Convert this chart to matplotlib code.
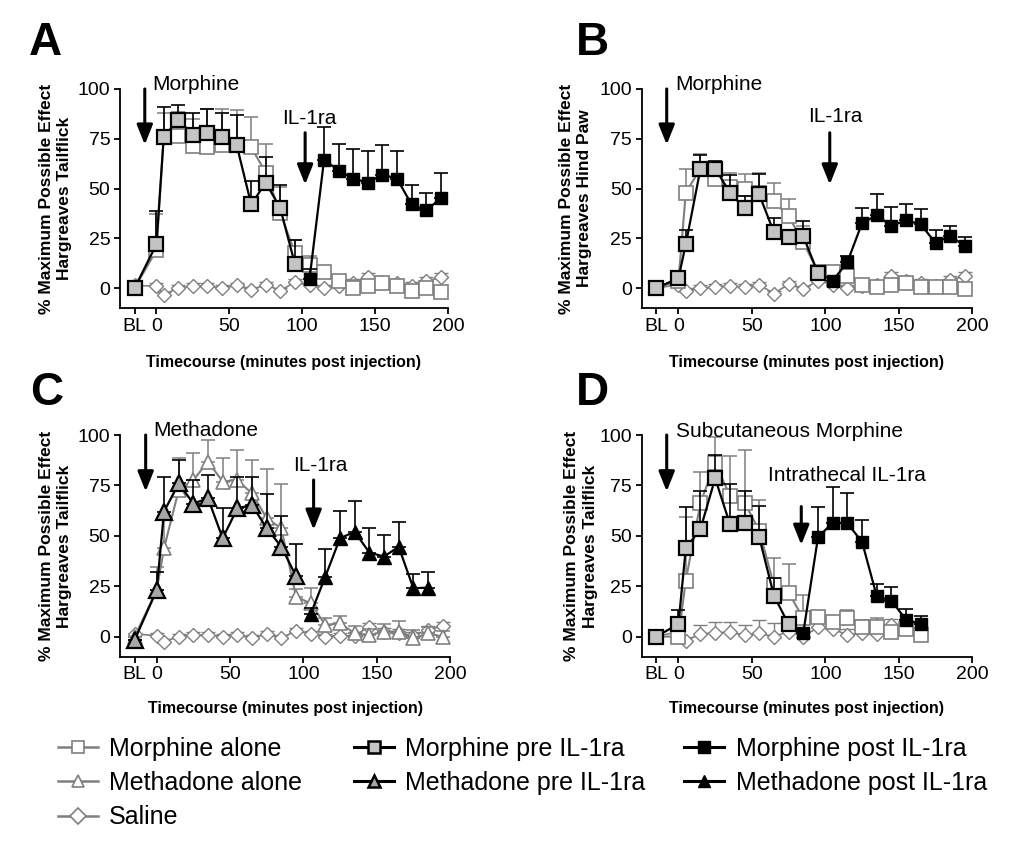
import matplotlib.pyplot as plt
import matplotlib as mpl
import numpy as np
from matplotlib.lines import Line2D

# Set plot parameters
mpl.rcParams['font.family'] = ['Liberation Sans', 'DejaVu Sans']
mpl.rcParams['xtick.major.size'] = 4
mpl.rcParams['ytick.major.size'] = 4
mpl.rcParams['xtick.major.width'] = 1.3
mpl.rcParams['ytick.major.width'] = 1.3
mpl.rcParams['axes.linewidth'] = 1.3

# time points (BL plotted at -15)
t_full = [-15, 0, 5, 15, 25, 35, 45, 55, 65, 75, 85, 95,
          105, 115, 125, 135, 145, 155, 165, 175, 185, 195]
t_pre = t_full[:12]
t_post = t_full[12:]
t_c_post = t_full[12:21]
t_d_full = t_full[:19]
t_d_pre = t_full[:10]
t_d_post = t_full[10:19]
xtick_pos = [-15, 0, 50, 100, 150, 200]
xtick_lab = ['BL', '0', '50', '100', '150', '200']

# Panel A - morphine, tailflick
a_alone = [0, 19, 76, 76.5, 71.5, 71, 72, 72, 70.7, 58, 37.7, 17.6,
           11.4, 8, 3.4, 0, 1, 2.5, 1, -1.3, 0, -2]
a_alone_sem = [0, 18, 12, 12, 13.5, 19, 18, 17.6, 15.3, 14.5, 12.9, 6.4,
               4.6, 3, 2, 4, 3, 2, 2, 2, 2, 2]
a_pre = [0, 22, 76, 84.5, 77, 78, 76, 72, 42, 53, 40, 12]
a_pre_sem = [0, 16.5, 15, 7.5, 11, 12, 12, 15, 12, 13, 12, 12]
a_post = [4.5, 64.5, 59, 55, 53, 57, 55, 42, 39, 45]
a_post_sem = [5, 16.5, 13.5, 15, 16, 15, 14, 10, 9, 13]
a_saline = [1.3, 1, -3.3, 0, 1, 1, 0, 1.3, -1, 1.7, -1.3, 3,
            1.3, 0, 1, 2.5, 5.4, 3, 2.5, 1, 3.4, 5.4]
a_saline_sem = [0, 1.5, 1.5, 1.5, 1.5, 1.5, 1.5, 1.5, 1.5, 1.5, 1.5, 1.5,
                1.5, 1.5, 1.5, 2, 2, 2, 2, 2, 2, 2]

# Panel B - morphine, hind paw
b_alone = [0, 3.7, 48, 60, 55, 50.6, 50, 47.7, 43.5, 36, 23, 8,
           8, 6, 1.3, 0.5, 1.3, 2.5, 0.5, 0.3, 0.5, -0.5]
b_alone_sem = [0, 2, 11.8, 7.5, 8, 7.2, 7.5, 10, 9.5, 8.6, 8, 3,
               3, 5, 2, 2, 2, 2, 2, 2, 2, 2]
b_pre = [0, 5, 22, 60, 60, 48, 40, 47, 28, 25.5, 26, 7.5]
b_pre_sem = [0, 2, 7, 7, 4, 8.6, 6, 10.5, 7, 3.5, 7.5, 3.5]
b_post = [3.7, 13, 32.7, 36.5, 31.3, 34, 32, 22.6, 26.3, 21]
b_post_sem = [2, 3, 7.3, 10.5, 9.2, 8, 7.5, 6.4, 5, 4.6]
b_saline = [0, 1.7, -1.7, 0, 0.5, 1.2, 0.5, 1.7, -2.8, 2, -0.5, 3.7,
            1.7, 0, 0.8, 1.7, 5.9, 3.4, 2.5, 0.8, 4.2, 5.9]
b_saline_sem = [0, 1.5, 1.5, 1.5, 1.5, 1.5, 1.5, 1.5, 1.5, 1.5, 1.5, 1.5,
                1.5, 1.5, 1.5, 2, 2, 2, 2, 2, 2, 2]

# Panel C - methadone, tailflick
c_alone = [0, 23, 43.8, 72.7, 77.7, 86.8, 76.9, 77.7, 71, 58.7, 53.7, 19.8,
           16.5, 5.8, 6.6, 1.6, 0.8, 2.5, 2.5, -0.8, 1.6, 0]
c_alone_sem = [0, 11.7, 15, 15.7, 13.3, 10.7, 11.5, 14.9, 16.6, 24.3, 21.8, 4,
               7.5, 3.2, 3.7, 3.7, 3, 3.8, 5.3, 4, 3, 3]
c_pre = [-1.6, 23, 62, 76, 66, 68.6, 48.8, 63.6, 65.3, 53.7, 44.6, 30]
c_pre_sem = [0, 9, 17, 11.6, 11.7, 11.4, 14.8, 15.4, 13.7, 17, 15.4, 16]
c_post = [11.2, 29.8, 48.8, 52, 41.7, 39.7, 44.6, 24, 24.3]
c_post_sem = [3, 13.7, 13.5, 15.3, 12.3, 10.7, 12.4, 7, 7.9]
c_saline = [1.3, 0.5, -2.5, 0, 0.8, 0.8, 0, 0.8, -0.8, 1.3, -0.8, 3,
            1.2, 0, 0.5, 0.5, 5, 2.1, 1.6, 0.5, 3.3, 5.3]
c_saline_sem = [0, 1.5, 1.5, 1.5, 1.5, 1.5, 1.5, 1.5, 1.5, 1.5, 1.5, 1.5,
                1.5, 1.5, 1.5, 2, 2, 2, 2, 2, 2, 2]

# Panel D - subcutaneous morphine, intrathecal IL-1ra
d_alone = [0, 0, 27.8, 66.4, 86, 70, 66.4, 52.6, 25.6, 21.8, 9, 9.6,
           7.4, 9, 5, 5, 2.5, 4, 0.8]
d_alone_sem = [0, 2, 31.7, 15.1, 13, 19.6, 26.2, 15.2, 13.2, 14.1, 11.7, 3,
               2.6, 4, 3, 4, 3, 4, 2]
d_pre = [0, 6.3, 43.8, 53.4, 78.5, 55.9, 56.2, 49.3, 20.3, 6.1]
d_pre_sem = [0, 6.9, 20.7, 18.6, 11.5, 20, 16.2, 15.5, 8.7, 2]
d_post = [2, 49.3, 56.5, 56.2, 47, 20, 17.8, 8.3, 6.3]
d_post_sem = [2, 15.2, 17.5, 15.2, 11, 6, 6.7, 5.2, 3.7]
d_saline = [0, 2.5, -2, 1.2, 2, 2.1, 0.8, 1.6, 0, 2.5, 0, 4.6,
            3.8, 0.8, 1.6, 1.3, 5.8, 5, 2.8]
d_saline_sem = [0, 2, 2, 4.6, 5.4, 5.3, 5, 6.7, 6.6, 4, 3, 3,
                4, 3, 3, 3, 3, 2, 2]

GRAY = '#7f7f7f'
PRE_SQ = '#c4c4c4'
PRE_TRI = '#a6a6a6'


def errs(ax, t, y, sem, color, lw, z):
    lower = np.zeros(len(y))
    ax.errorbar(t, y, yerr=[lower, sem], fmt='none', ecolor=color,
                elinewidth=lw, capsize=4.8, capthick=lw, zorder=z)


def panel(ax, tf, alone, alone_sem, tpre, pre, pre_sem, tpost, post, post_sem,
          saline, saline_sem, mk, ylab):
    pre_fill = PRE_SQ if mk == 's' else PRE_TRI
    ms_big = 10 if mk == 's' else 11
    # saline
    errs(ax, tf, saline, saline_sem, GRAY, 1.0, 1)
    ax.plot(tf, saline, color=GRAY, lw=1.2, marker='D', ms=7.5,
            mfc='white', mec=GRAY, mew=1.0, zorder=2)
    # drug alone
    errs(ax, tf, alone, alone_sem, GRAY, 1.1, 3)
    ax.plot(tf, alone, color=GRAY, lw=1.5, marker=mk, ms=ms_big - 0.5,
            mfc='white', mec=GRAY, mew=1.2, zorder=4)
    # pre / post IL-1ra
    errs(ax, tpre, pre, pre_sem, 'black', 1.2, 5)
    ax.plot(tpre, pre, color='black', lw=1.6, marker=mk, ms=ms_big,
            mfc=pre_fill, mec='black', mew=1.6, zorder=6)
    errs(ax, tpost, post, post_sem, 'black', 1.2, 5)
    ax.plot(tpost, post, color='black', lw=1.6, marker=mk, ms=ms_big - 1,
            mfc='black', mec='black', mew=1.0, zorder=6)

    ax.set_xlim(-25, 200)
    ax.set_ylim(-10, 100)
    ax.set_yticks([0, 25, 50, 75, 100])
    ax.set_xticks(xtick_pos)
    ax.set_xticklabels(xtick_lab)
    ax.tick_params(labelsize=14, pad=3)
    ax.spines['top'].set_visible(False)
    ax.spines['right'].set_visible(False)
    ax.set_ylabel(ylab, fontsize=12.5, fontweight='bold', linespacing=1.3)
    ax.set_xlabel('Timecourse (minutes post injection)', fontsize=11.5,
                  fontweight='bold')


def arrow(ax, x, y0, y1):
    ax.annotate('', xy=(x, y1), xytext=(x, y0),
                arrowprops=dict(arrowstyle='-|>,head_length=0.6,head_width=0.24',
                                lw=2.2, color='black', mutation_scale=20,
                                shrinkA=0, shrinkB=0), annotation_clip=False)


fig = plt.figure(figsize=(10.17, 8.48), dpi=100)
axA = fig.add_axes([0.118, 0.6368, 0.3225, 0.2583])
axB = fig.add_axes([0.631, 0.6368, 0.325, 0.2583])
axC = fig.add_axes([0.118, 0.2255, 0.3245, 0.2615])
axD = fig.add_axes([0.631, 0.2255, 0.325, 0.2615])

panel(axA, t_full, a_alone, a_alone_sem, t_pre, a_pre, a_pre_sem,
      t_post, a_post, a_post_sem, a_saline, a_saline_sem, 's',
      '% Maximum Possible Effect\nHargreaves Tailflick')
panel(axB, t_full, b_alone, b_alone_sem, t_pre, b_pre, b_pre_sem,
      t_post, b_post, b_post_sem, b_saline, b_saline_sem, 's',
      '% Maximum Possible Effect\nHargreaves Hind Paw')
panel(axC, t_full, c_alone, c_alone_sem, t_pre, c_pre, c_pre_sem,
      t_c_post, c_post, c_post_sem, c_saline, c_saline_sem, '^',
      '% Maximum Possible Effect\nHargreaves Tailflick')
panel(axD, t_d_full, d_alone, d_alone_sem, t_d_pre, d_pre, d_pre_sem,
      t_d_post, d_post, d_post_sem, d_saline, d_saline_sem, 's',
      '% Maximum Possible Effect\nHargreaves Tailflick')

axA.yaxis.set_label_coords(-0.145, 0.5)
axB.yaxis.set_label_coords(-0.150, 0.5)
axC.yaxis.set_label_coords(-0.145, 0.5)
axD.yaxis.set_label_coords(-0.132, 0.5)
axA.xaxis.set_label_coords(0.5, -0.215)
axB.xaxis.set_label_coords(0.5, -0.215)
axC.xaxis.set_label_coords(0.5, -0.2)
axD.xaxis.set_label_coords(0.5, -0.2)

# annotations
arrow(axA, -8, 100, 72)
arrow(axA, 102, 78, 52)
axA.text(-3, 102, 'Morphine', fontsize=15, va='center')
axA.text(86, 85, 'IL-1ra', fontsize=15, va='center')

arrow(axB, -8, 100, 72)
arrow(axB, 103, 78, 52)
axB.text(-2, 102, 'Morphine', fontsize=15, va='center')
axB.text(88.5, 86, 'IL-1ra', fontsize=15, va='center')

arrow(axC, -7.5, 100, 72)
arrow(axC, 107, 77.7, 53)
axC.text(-2, 102, 'Methadone', fontsize=15, va='center')
axC.text(93, 85, 'IL-1ra', fontsize=15, va='center')

arrow(axD, -8, 100, 72)
arrow(axD, 83.6, 64.5, 45.5)
axD.text(-2, 101.6, 'Subcutaneous Morphine', fontsize=15, va='center')
axD.text(61, 80, 'Intrathecal IL-1ra', fontsize=15, va='center')

# panel letters
for lab, x, y in [('A', 0.028, 0.975), ('B', 0.566, 0.975),
                  ('C', 0.03, 0.562), ('D', 0.566, 0.562)]:
    fig.text(x, y, lab, fontsize=33, fontweight='bold', va='top')

# legend
def h(color, mk, fill, mec, mew, lw):
    return Line2D([], [], color=color, lw=lw, marker=mk, ms=8.5, mfc=fill,
                  mec=mec, mew=mew)

col1 = [h(GRAY, 's', 'white', GRAY, 1.2, 1.8), h(GRAY, '^', 'white', GRAY, 1.2, 1.8),
        h(GRAY, 'D', 'white', GRAY, 1.2, 1.8)]
col1_lab = ['Morphine alone', 'Methadone alone', 'Saline']
col2 = [h('black', 's', PRE_SQ, 'black', 1.8, 2.2), h('black', '^', PRE_TRI, 'black', 1.8, 2.2)]
col2_lab = ['Morphine pre IL-1ra', 'Methadone pre IL-1ra']
col3 = [h('black', 's', 'black', 'black', 1.0, 2.2), h('black', '^', 'black', 'black', 1.0, 2.2)]
col3_lab = ['Morphine post IL-1ra', 'Methadone post IL-1ra']

for hs, ls, x in [(col1, col1_lab, 0.057), (col2, col2_lab, 0.348), (col3, col3_lab, 0.673)]:
    leg = fig.legend(hs, ls, loc='upper left', bbox_to_anchor=(x, 0.131),
                     frameon=False, fontsize=18, handlelength=1.6,
                     handletextpad=0.45, labelspacing=0.41, borderaxespad=0,
                     borderpad=0)

fig.savefig('out.png', dpi=100)
